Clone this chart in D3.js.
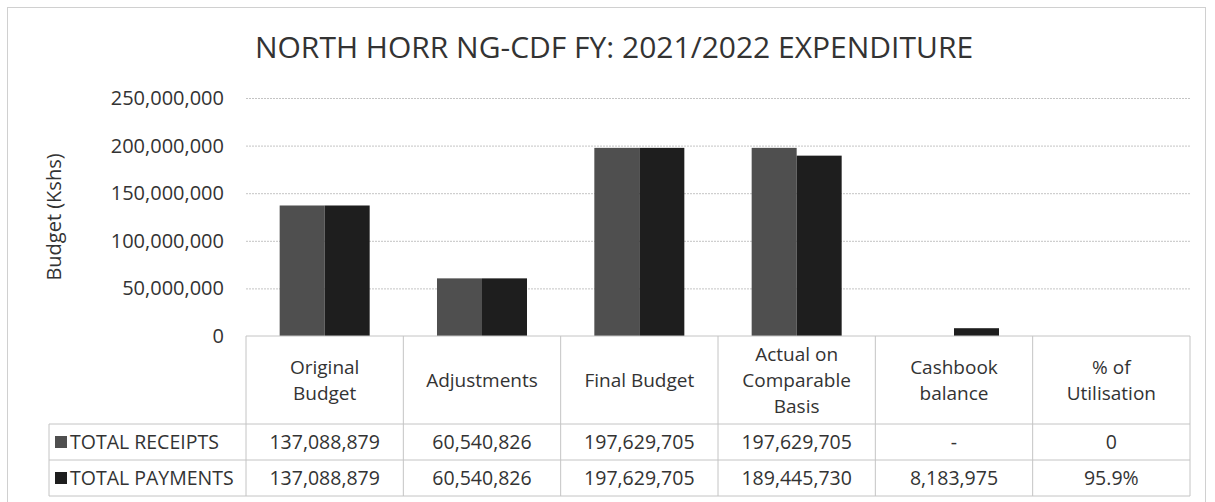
<!DOCTYPE html>
<html>
<head>
<meta charset="utf-8">
<script src="https://cdn.jsdelivr.net/npm/d3@7"></script>
<style>
  body { margin: 0; background: #fff; }
  svg { display: block; font-family: "Open Sans", sans-serif; }
</style>
</head>
<body>
<div id="chart"></div>
<script>
// chart values
const categories = ["Original Budget", "Adjustments", "Final Budget", "Actual on Comparable Basis", "Cashbook balance", "% of Utilisation"];
const headerLines = [["Original", "Budget"], ["Adjustments"], ["Final Budget"], ["Actual on", "Comparable", "Basis"], ["Cashbook", "balance"], ["% of", "Utilisation"]];
const seriesNames = ["TOTAL RECEIPTS", "TOTAL PAYMENTS"];
const receipts = [137088879, 60540826, 197629705, 197629705, 0, 0];
const payments = [137088879, 60540826, 197629705, 189445730, 8183975, 0.959];
const receiptsLabels = ["137,088,879", "60,540,826", "197,629,705", "197,629,705", "-", "0"];
const paymentsLabels = ["137,088,879", "60,540,826", "197,629,705", "189,445,730", "8,183,975", "95.9%"];
const yTicks = [0, 50000000, 100000000, 150000000, 200000000, 250000000];

const W = 1215, H = 502;
const plotLeft = 246, plotRight = 1190, plotTop = 98, plotBottom = 336;
const rowY = [336, 424, 460, 496];
const legendLeft = 49;
const textColor = "#333";
const lineColor = "#c4c4c4";
const colors = {"TOTAL RECEIPTS": "#4f4f4f", "TOTAL PAYMENTS": "#1e1e1e"};

const svg = d3.select("#chart").append("svg")
    .attr("width", W)
    .attr("height", H);

// outer frame
svg.append("rect")
    .attr("x", 7.5).attr("y", 7.5)
    .attr("width", 1198).attr("height", 500)
    .attr("fill", "none")
    .attr("stroke", "#d0d0d0");

svg.append("text")
    .attr("x", 614).attr("y", 58)
    .attr("text-anchor", "middle")
    .attr("font-size", 30)
    .attr("fill", textColor)
    .text("NORTH HORR NG-CDF FY: 2021/2022 EXPENDITURE");

const x = d3.scaleBand().domain(categories).range([plotLeft, plotRight]);
const x1 = d3.scaleBand().domain(seriesNames).range([0, x.bandwidth()]).paddingOuter(0.748);
const y = d3.scaleLinear().domain([0, 250000000]).range([plotBottom, plotTop]);

// gridlines
svg.append("g")
    .attr("transform", "translate(" + plotLeft + ",0)")
    .call(d3.axisLeft(y).tickValues(yTicks.slice(1)).tickSize(-(plotRight - plotLeft)).tickFormat(""))
    .call(g => g.select(".domain").remove())
    .call(g => g.selectAll("line").attr("stroke", lineColor).attr("stroke-dasharray", "2,1"));

// y axis labels
svg.append("g")
    .attr("transform", "translate(" + plotLeft + ",0)")
    .call(d3.axisLeft(y).tickValues(yTicks).tickSize(0).tickPadding(22).tickFormat(d3.format(",")))
    .call(g => g.select(".domain").remove())
    .call(g => g.selectAll("text")
        .attr("font-family", "Open Sans")
        .attr("font-size", 20)
        .attr("fill", textColor));

svg.append("text")
    .attr("transform", "translate(61," + (plotTop + plotBottom) / 2 + ") rotate(-90)")
    .attr("text-anchor", "middle")
    .attr("font-size", 20)
    .attr("fill", textColor)
    .text("Budget (Kshs)");

// bars
const rows = categories.map((c, i) => ({cat: c, values: [receipts[i], payments[i]]}));
svg.append("g").selectAll("g")
    .data(rows)
    .join("g")
    .attr("transform", d => "translate(" + x(d.cat) + ",0)")
    .selectAll("rect")
    .data(d => d.values.map((v, j) => ({key: seriesNames[j], value: v})))
    .join("rect")
    .attr("x", d => x1(d.key))
    .attr("width", x1.bandwidth())
    .attr("y", d => y(d.value))
    .attr("height", d => y(0) - y(d.value))
    .attr("fill", d => colors[d.key]);

// data table
const table = svg.append("g")
    .attr("stroke", lineColor)
    .attr("fill", "none");
table.append("line").attr("x1", plotLeft).attr("x2", plotRight).attr("y1", rowY[0]).attr("y2", rowY[0]);
for (let r = 1; r < rowY.length; r++) {
    table.append("line").attr("x1", legendLeft).attr("x2", plotRight).attr("y1", rowY[r]).attr("y2", rowY[r]);
}
table.append("line").attr("x1", legendLeft).attr("x2", legendLeft).attr("y1", rowY[1]).attr("y2", rowY[3]);
categories.forEach(c => {
    table.append("line").attr("x1", x(c)).attr("x2", x(c)).attr("y1", rowY[0]).attr("y2", rowY[3]);
});
table.append("line").attr("x1", plotRight).attr("x2", plotRight).attr("y1", rowY[0]).attr("y2", rowY[3]);

// header cells
const headMid = (rowY[0] + rowY[1]) / 2;
categories.forEach((c, i) => {
    const lines = headerLines[i];
    const t = svg.append("text")
        .attr("text-anchor", "middle")
        .attr("font-size", 19)
        .attr("fill", textColor);
    lines.forEach((ln, k) => {
        t.append("tspan")
            .attr("x", x(c) + x.bandwidth() / 2)
            .attr("y", headMid + (k - (lines.length - 1) / 2) * 26)
            .attr("dy", "0.35em")
            .text(ln);
    });
});

// value rows with legend keys
[receiptsLabels, paymentsLabels].forEach((labels, r) => {
    const mid = (rowY[r + 1] + rowY[r + 2]) / 2;
    svg.append("rect")
        .attr("x", 55).attr("y", mid - 6)
        .attr("width", 12).attr("height", 12)
        .attr("fill", colors[seriesNames[r]]);
    svg.append("text")
        .attr("x", 70).attr("y", mid)
        .attr("dy", "0.35em")
        .attr("font-size", 19.5)
        .attr("fill", textColor)
        .text(seriesNames[r]);
    svg.append("g").selectAll("text")
        .data(labels)
        .join("text")
        .attr("x", (d, i) => x(categories[i]) + x.bandwidth() / 2)
        .attr("y", mid)
        .attr("dy", "0.35em")
        .attr("text-anchor", "middle")
        .attr("font-size", 19.5)
        .attr("fill", textColor)
        .text(d => d);
});
</script>
</body>
</html>
